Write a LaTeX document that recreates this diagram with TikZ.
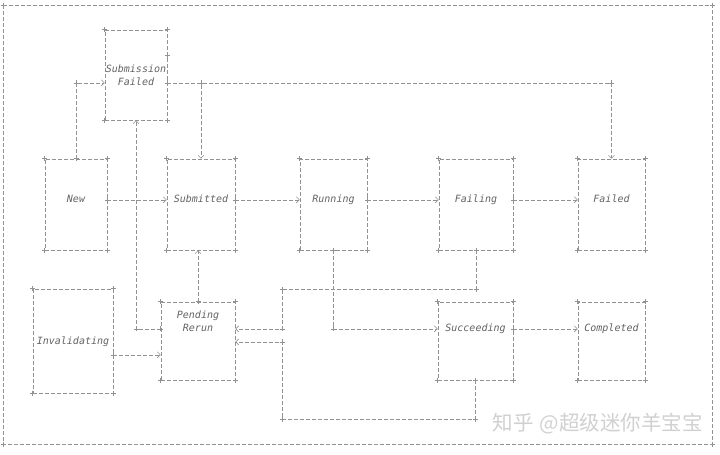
\documentclass[tikz,border=0pt]{standalone}
\usepackage{fontspec}
\setmonofont{DejaVu Sans Mono}
\newfontfamily\cjk{Noto Sans CJK SC}
\usetikzlibrary{arrows.meta,calc}

\definecolor{lncol}{HTML}{929292}
\definecolor{txcol}{HTML}{626262}
\definecolor{wmcol}{HTML}{D0D0D0}

\newcommand{\twoline}[2]{\begin{tabular}[b]{@{}c@{}}#1\\#2\end{tabular}}

\begin{document}
\begin{tikzpicture}[
    x=1pt, y=-1pt,
    state/.style={draw=lncol, line width=0.6pt, dash pattern=on 4pt off 2pt, inner sep=0pt, anchor=base,
        font=\ttfamily\itshape\fontsize{10}{13}\selectfont, text=txcol},
    row/.style={state, text height=43pt, text depth=48pt},
    low/.style={state, text height=29pt, text depth=49pt},
    wire/.style={draw=lncol, line width=0.6pt, dash pattern=on 4pt off 2pt},
    link/.style={wire, -{Straight Barb[length=3pt,width=6pt]}},
    crs/.style={draw=lncol, line width=0.6pt}
]
    \useasboundingbox (0,0) rectangle (720,455);

    % Outer frame
    \coordinate (fr-nw) at (3,5);
    \coordinate (fr-ne) at (712,5);
    \coordinate (fr-sw) at (3,444);
    \coordinate (fr-se) at (712,444);
    \draw[wire] (fr-nw) rectangle (fr-se);

    % States
    \node[state, minimum width=62pt, text height=55pt, text depth=35pt] (sfail) at (136,85) {\twoline{Submission}{Failed}};
    \node[row, minimum width=62pt] (new) at (76,202) {New};
    \node[row, minimum width=68pt] (sub) at (201,202) {Submitted};
    \node[row, minimum width=67pt] (run) at (333.5,202) {Running};
    \node[row, minimum width=74pt] (failing) at (476,202) {Failing};
    \node[row, minimum width=67pt] (failed) at (611.5,202) {Failed};
    \node[state, minimum width=80pt, text height=55pt, text depth=49pt] (inval) at (73,344) {Invalidating};
    \node[low, minimum width=74pt] (pend) at (198,331) {\twoline{Pending}{Rerun}};
    \node[low, minimum width=75pt] (succ) at (475.5,331) {Succeeding};
    \node[low, minimum width=67pt] (compl) at (611.5,331) {Completed};

    % Bends and junctions
    \coordinate (b1) at (new.north |- sfail.mid west);
    \coordinate (b2) at (sub.north |- sfail.mid east);
    \coordinate (b3) at (failed.north |- sfail.mid east);
    \coordinate (b4) at (sfail.south |- pend.mid west);
    \coordinate (b5) at (run.south |- succ.mid west);
    \coordinate (inv-out) at ([yshift=-13pt]inval.mid east);
    \coordinate (pend-in) at ([yshift=-13pt]pend.mid east);
    \coordinate (bus-t) at (282,289);
    \coordinate (bus-b) at (282,419);
    \coordinate (b6) at (failing.south |- bus-t);
    \coordinate (b7) at (bus-t |- pend.mid east);
    \coordinate (b8) at (succ.south |- bus-b);
    \coordinate (b9) at (bus-b |- pend-in);
    \coordinate (tick) at ($(sfail.north east)+(0,26)$);

    % Into and out of Submission Failed
    \draw[link] (new.north) -- (b1) -- (sfail.mid west);
    \draw[link] (sfail.mid east) -- (b2) -- (sub.north);
    \draw[link] (sfail.mid east) -- (b3) -- (failed.north);

    % Main row
    \draw[link] (new.mid east) -- (sub.mid west);
    \draw[link] (sub.mid east) -- (run.mid west);
    \draw[link] (run.mid east) -- (failing.mid west);
    \draw[link] (failing.mid east) -- (failed.mid west);

    % Reruns and success
    \draw[link] (pend.mid west) -- (b4) -- (sfail.south);
    \draw[link] (pend.north) -- (pend.north |- sub.south);
    \draw[link] (inv-out) -- (inv-out -| pend.west);
    \draw[link] (run.south) -- (b5) -- (succ.mid west);
    \draw[link] (failing.south) -- (b6) -- (bus-t) -- (b7) -- (pend.mid east);
    \draw[link] (succ.south) -- (b8) -- (bus-b) -- (b9) -- (pend-in);
    \draw[link] (succ.mid east) -- (compl.mid west);

    % ASCII style corner marks
    \foreach \b in {sfail,new,sub,run,failing,failed,inval,pend,succ,compl}
        \foreach \c in {north west,north east,south west,south east}
            \draw[crs] (\b.\c) +(-2.5,0) -- +(2.5,0) +(0,-2.5) -- +(0,2.5);
    \foreach \p in {fr-nw,fr-ne,fr-sw,fr-se,b1,b2,b3,b4,b5,b6,b7,b8,b9,bus-t,bus-b,inv-out,tick,
            new.north,sfail.mid east,new.mid east,sub.mid east,run.mid east,failing.mid east,
            succ.mid east,pend.mid west,pend.north,run.south,failing.south,succ.south}
        \draw[crs] (\p) +(-2.5,0) -- +(2.5,0) +(0,-2.5) -- +(0,2.5);

    % Watermark
    \node[font=\cjk\fontsize{20.5}{21}\selectfont, text=wmcol, anchor=east, inner sep=0pt] (wmark) at (703,424) {知乎\hspace{6pt}@超级迷你羊宝宝};

\end{tikzpicture}
\end{document}
